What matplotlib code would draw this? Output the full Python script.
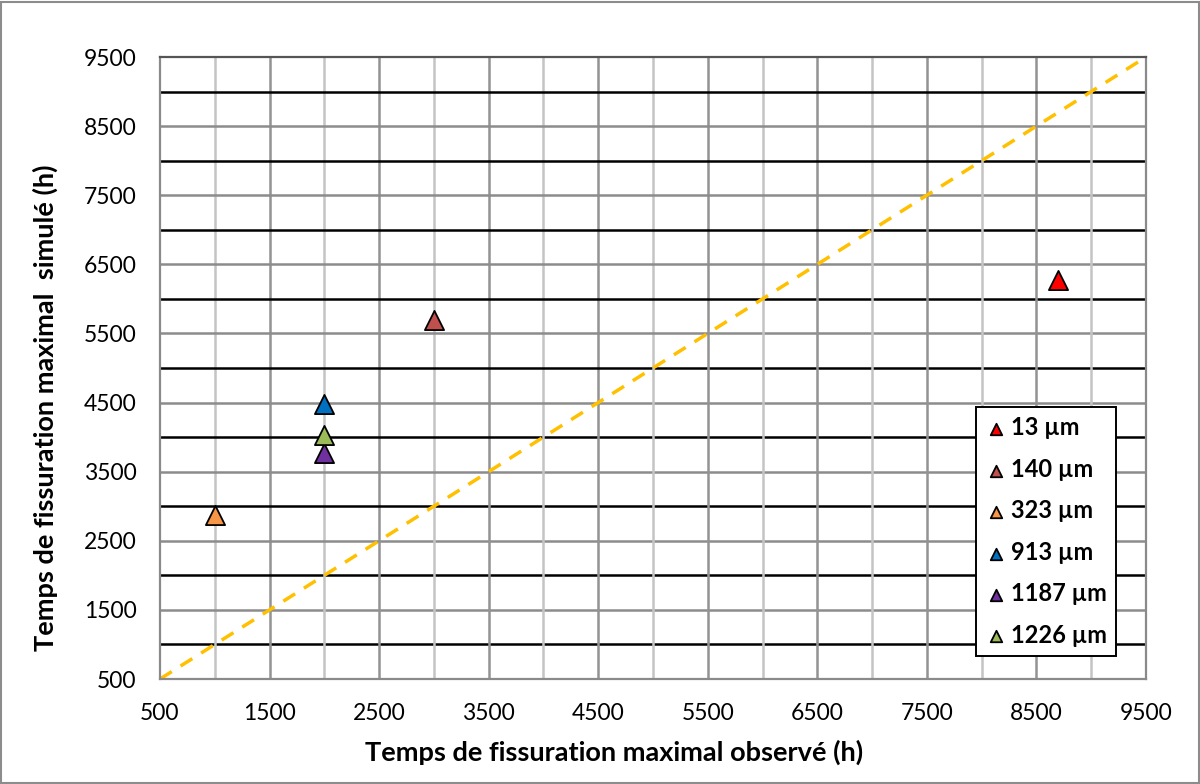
import matplotlib
matplotlib.use("Agg")
import matplotlib.pyplot as plt
from matplotlib.patches import Rectangle

labels = ["13 µm", "140 µm", "323 µm", "913 µm", "1187 µm", "1226 µm"]
observed = [8700, 3000, 1000, 2000, 2000, 2000]
simulated = [6280, 5700, 2870, 4480, 3770, 4030]
colors = ["#FF0000", "#C0504D", "#F79646", "#0070C0", "#7030A0", "#9BBB59"]
ref_line = [500, 9500]
ticks = [500, 1500, 2500, 3500, 4500, 5500, 6500, 7500, 8500, 9500]

plt.rcParams['font.family'] = ['Lato', 'DejaVu Sans']

W, H = 1200, 784
fig = plt.figure(figsize=(12, 7.84), dpi=100)
ax = fig.add_axes([160/W, 1 - 679/H, (1146-160)/W, (679-57)/H])

ax.set_xlim(500, 9500)
ax.set_ylim(500, 9500)

# grid lines
for v in range(500, 9501, 500):
    if v in (500, 9500):
        continue
    ax.axhline(v, color="black" if v % 1000 == 0 else "#8C8C8C", lw=1.8, zorder=1)
    ax.axvline(v, color="#C4C4C4" if v % 1000 == 0 else "#939393", lw=1.8, zorder=1)

ax.plot(ref_line, ref_line, color="#FFC000", lw=2.5, ls=(0, (4, 3)), zorder=2)

for x, y, c, lab in zip(observed, simulated, colors, labels):
    ax.scatter(x, y, marker="^", s=190, color=c, edgecolor="black", linewidth=1.3,
               zorder=5, label=lab)

ax.set_xticks(ticks)
ax.set_yticks(ticks)
ax.tick_params(axis="y", length=0, labelsize=16.5, pad=17)
ax.tick_params(axis="x", length=0, labelsize=16.5, pad=17)
for s in ax.spines.values():
    s.set_color("#8A8A8A")
    s.set_linewidth(1.6)
ax.spines["top"].set_color("#555555")

fig.text(614/W, 1 - 752/H, "Temps de fissuration maximal observé (h)", fontsize=19.5,
         fontweight="bold", ha="center", va="center")
fig.text(45/W, 1 - 408/H, "Temps de fissuration maximal  simulé (h)", fontsize=19.5,
         fontweight="bold", ha="center", va="center", rotation=90)

leg = ax.legend(loc="lower right", bbox_to_anchor=(0.9696, 0.037),
                prop={"weight": "bold", "size": 17}, frameon=True, fancybox=False,
                edgecolor="black", framealpha=1, borderpad=0.4, labelspacing=0.78,
                handletextpad=0.15, handlelength=0.9, markerscale=0.6,
                borderaxespad=0)
leg.get_frame().set_linewidth(1.4)

fig.patches.append(Rectangle((0.001, 0.001), 0.998, 0.997, transform=fig.transFigure,
                             fill=False, edgecolor="#8C8C8C", lw=1.5))

fig.savefig("out.png", dpi=100)
